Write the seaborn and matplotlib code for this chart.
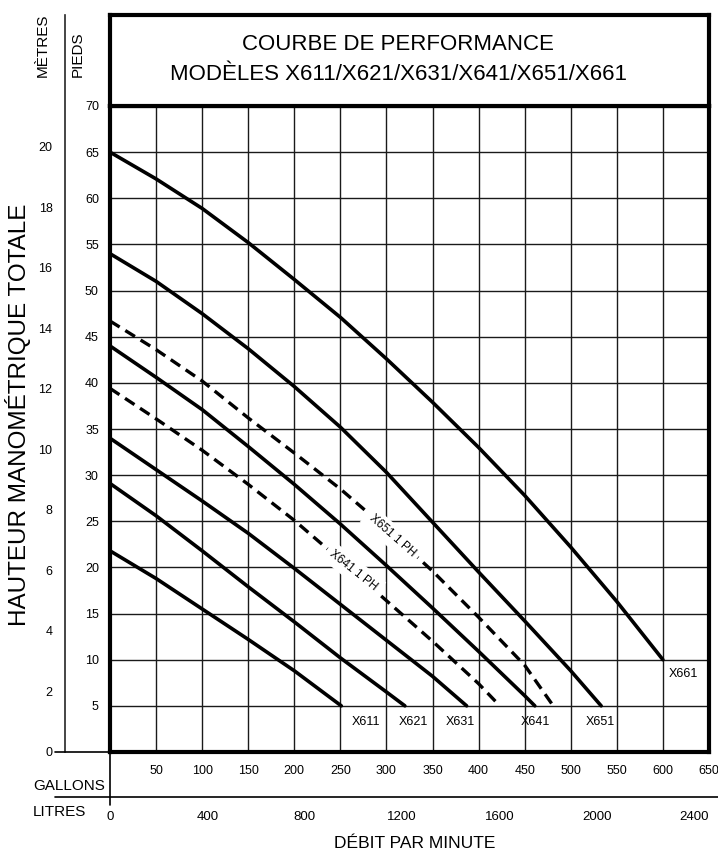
import numpy as np
import pandas as pd
import matplotlib
matplotlib.use("Agg")
import matplotlib.pyplot as plt
import seaborn as sns
from matplotlib.lines import Line2D

# ---------------- data (flow in US gpm, head in feet) ----------------
gpm_x611 = [0, 50, 100, 150, 200, 251]
ft_x611 = [21.8, 18.8, 15.5, 12.2, 8.8, 5.0]

gpm_x621 = [0, 50, 100, 150, 200, 250, 300, 320]
ft_x621 = [29.1, 25.6, 21.8, 17.9, 14.1, 10.2, 6.5, 5.0]

gpm_x631 = [0, 50, 100, 150, 200, 250, 300, 350, 387]
ft_x631 = [34.0, 30.6, 27.2, 23.7, 19.9, 16.0, 12.1, 8.2, 5.0]

gpm_x641_1ph = [0, 50, 100, 150, 200, 250, 300, 350, 400, 423]
ft_x641_1ph = [39.4, 36.1, 32.7, 29.0, 25.1, 20.8, 16.4, 12.0, 7.4, 5.0]

gpm_x641 = [0, 50, 100, 150, 200, 250, 300, 350, 400, 450, 461]
ft_x641 = [44.0, 40.6, 37.1, 33.1, 29.0, 24.7, 20.2, 15.6, 10.9, 6.1, 5.0]

gpm_x651_1ph = [0, 50, 100, 150, 200, 250, 300, 350, 400, 450, 481]
ft_x651_1ph = [46.7, 43.6, 40.2, 36.2, 32.4, 28.5, 24.2, 19.6, 14.6, 9.4, 5.0]

gpm_x651 = [0, 50, 100, 150, 200, 250, 300, 350, 400, 450, 500, 533]
ft_x651 = [54.0, 51.0, 47.5, 43.7, 39.6, 35.2, 30.3, 24.9, 19.5, 14.2, 8.8, 5.0]

gpm_x661 = [0, 50, 100, 150, 200, 250, 300, 350, 400, 450, 500, 550, 600]
ft_x661 = [65.0, 62.1, 58.9, 55.2, 51.2, 47.1, 42.6, 37.9, 33.0, 27.8, 22.2, 16.3, 10.0]

series_names = ["X611", "X621", "X631", "X641 1 PH", "X641", "X651 1 PH", "X651", "X661"]
series_gpm = [gpm_x611, gpm_x621, gpm_x631, gpm_x641_1ph, gpm_x641, gpm_x651_1ph, gpm_x651, gpm_x661]
series_ft = [ft_x611, ft_x621, ft_x631, ft_x641_1ph, ft_x641, ft_x651_1ph, ft_x651, ft_x661]
series_dashed = [False, False, False, True, False, True, False, False]

end_labels = ["X611", "X621", "X631", "X641", "X651", "X661"]
end_label_gpm = [278, 329, 380, 462, 532, 622]
end_label_ft = [3.3, 3.3, 3.3, 3.3, 3.3, 8.4]

ph_labels = ["X651 1 PH", "X641 1 PH"]
ph_label_gpm = [306, 264]
ph_label_ft = [23.4, 19.7]

gallon_ticks = list(range(0, 651, 50))
gallon_ticklabels = [""] + [str(v) for v in gallon_ticks[1:]]
feet_ticks = list(range(0, 71, 5))
feet_ticklabels = [""] + [str(v) for v in feet_ticks[1:]]
metre_ticks = list(range(0, 21, 2))
litre_ticks = list(range(0, 2401, 400))

title_lines = ["COURBE DE PERFORMANCE", "MODÈLES X611/X621/X631/X641/X651/X661"]

# ---------------- style ----------------
sns.set_style("white")
plt.rcParams["font.family"] = ["Liberation Sans", "DejaVu Sans"]
plt.rcParams["text.color"] = "black"
plt.rcParams["xtick.color"] = "black"
plt.rcParams["ytick.color"] = "black"
plt.rcParams["lines.solid_joinstyle"] = "round"
plt.rcParams["lines.dash_joinstyle"] = "round"

W, H = 718.0, 852.0
def fx(px):
    return px / W
def fy(py):
    return 1 - py / H

X0, X1 = 110, 709
Y0, Y1 = 752, 106   # bottom (0 ft), top (70 ft)

fig = plt.figure(figsize=(7.18, 8.52), dpi=100)

# ---------------- main axes ----------------
ax = fig.add_axes([fx(X0), fy(Y0), (X1 - X0) / W, (Y0 - Y1) / H])
for name, g, f, d in zip(series_names, series_gpm, series_ft, series_dashed):
    df = pd.DataFrame({"gpm": g, "ft": f})
    if d:
        sns.lineplot(data=df, x="gpm", y="ft", ax=ax, color="black", lw=2.4,
                     linestyle=(0, (3.4, 2.0)), sort=False, zorder=3)
    else:
        sns.lineplot(data=df, x="gpm", y="ft", ax=ax, color="black", lw=2.6,
                     sort=False, zorder=3)

ax.set_xlim(0, 650)
ax.set_ylim(0, 70)
ax.set_xticks(gallon_ticks)
ax.set_xticklabels(gallon_ticklabels, fontsize=9)
ax.set_yticks(feet_ticks)
ax.set_yticklabels(feet_ticklabels, fontsize=9)
ax.tick_params(axis="x", length=0, pad=9)
ax.tick_params(axis="y", length=6, width=1, pad=2)
ax.grid(True, color="#1a1a1a", lw=1.0)
ax.set_axisbelow(True)
ax.set_xlabel("")
ax.set_ylabel("")
for s in ax.spines.values():
    s.set_linewidth(3)
    s.set_color("black")

for t, gx, gy in zip(end_labels, end_label_gpm, end_label_ft):
    ax.text(gx, gy, t, ha="center", va="center", fontsize=9, zorder=4)

for t, gx, gy, rot in zip(ph_labels, ph_label_gpm, ph_label_ft, [-41.5, -38.5]):
    ax.text(gx, gy, t, ha="center", va="center", fontsize=8.5, rotation=rot,
            rotation_mode="anchor", zorder=5,
            bbox=dict(facecolor="white", edgecolor="none", pad=3.5))

# ---------------- title box ----------------
tax = fig.add_axes([fx(X0), fy(Y1), (X1 - X0) / W, (Y1 - 15) / H])
tax.set_xticks([])
tax.set_yticks([])
for s in tax.spines.values():
    s.set_linewidth(3)
    s.set_color("black")
tax.text(0.481, (Y1 - 45) / (Y1 - 15), title_lines[0], ha="center", va="center", fontsize=16)
tax.text(0.481, (Y1 - 75) / (Y1 - 15), title_lines[1], ha="center", va="center", fontsize=16)

# ---------------- metres axis ----------------
top_ft = (Y0 - 15) * 70.0 / (Y0 - Y1)
max_m = top_ft * 0.3048
mx = fig.add_axes([fx(65), fy(Y0), 0.0005, (Y0 - 15) / H])
mx.set_ylim(0, max_m)
mx.set_yticks(metre_ticks)
mx.set_yticklabels([str(v) for v in metre_ticks], fontsize=9)
mx.set_xticks([])
mx.tick_params(axis="y", length=7, width=1, pad=2)
for k, s in mx.spines.items():
    s.set_visible(k == "left")
mx.spines["left"].set_linewidth(1.2)
mx.patch.set_alpha(0)

# ---------------- litres axis ----------------
lx = fig.add_axes([fx(X0), fy(797), (X1 - X0) / W, 0.0005])
lx.set_xlim(0, 650 * 3.78541)
lx.set_xticks(litre_ticks)
lx.set_xticklabels([str(v) for v in litre_ticks], fontsize=9.5)
lx.set_yticks([])
lx.tick_params(axis="x", direction="out", length=7, width=1, pad=3)
for s in lx.spines.values():
    s.set_visible(False)
lx.patch.set_alpha(0)

# helper lines of the axis frame
fig.add_artist(Line2D([fx(55), fx(718)], [fy(797), fy(797)], color="black", lw=1.2))
fig.add_artist(Line2D([fx(110), fx(110)], [fy(Y0), fy(805)], color="black", lw=1.2))
fig.add_artist(Line2D([fx(55), fx(110)], [fy(Y0), fy(Y0)], color="black", lw=1.2))

# ---------------- axis texts ----------------
fig.text(fx(43), fy(77), "MÈTRES", rotation=90, ha="center", va="bottom", fontsize=11)
fig.text(fx(78), fy(77), "PIEDS", rotation=90, ha="center", va="bottom", fontsize=11)
fig.text(fx(18), fy(415), "HAUTEUR MANOMÉTRIQUE TOTALE", rotation=90,
         ha="center", va="center", fontsize=17.5)
fig.text(fx(33), fy(786), "GALLONS", ha="left", va="center", fontsize=11)
fig.text(fx(33), fy(812), "LITRES", ha="left", va="center", fontsize=11)
fig.text(fx(415), fy(843), "DÉBIT PAR MINUTE", ha="center", va="center", fontsize=12.5)

fig.savefig("out.png", dpi=100)
